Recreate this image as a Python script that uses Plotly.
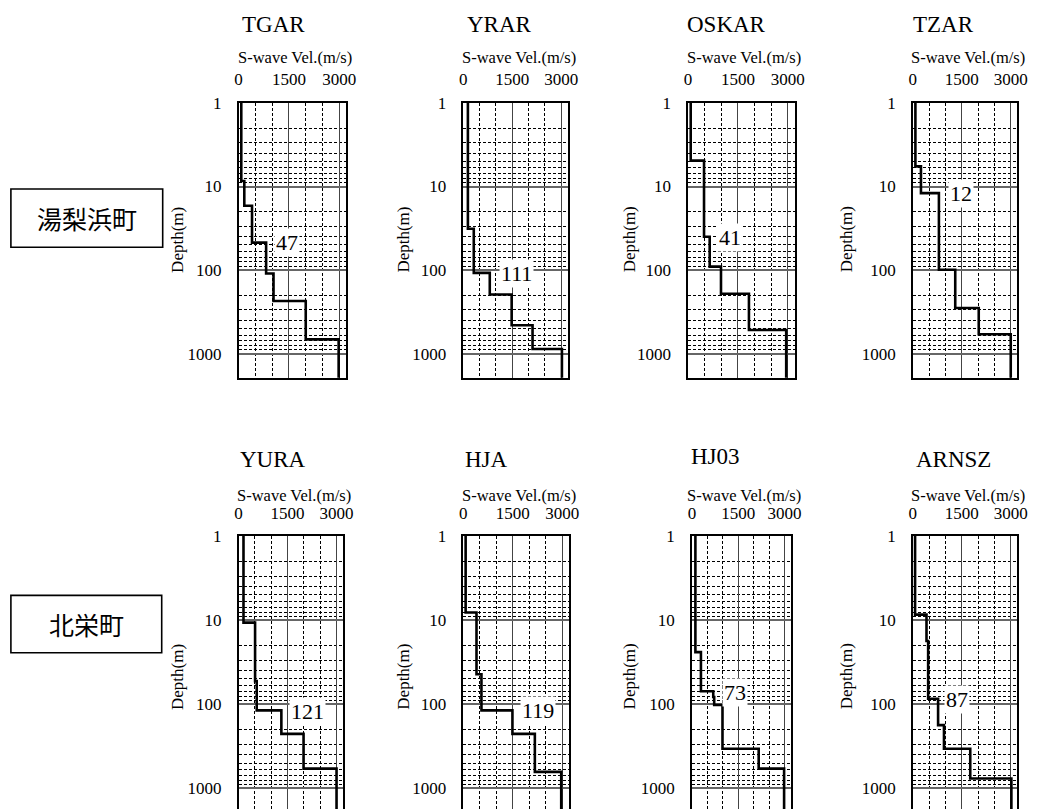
import math
import plotly.graph_objects as go

W, H = 1047, 809

# ---------------- data ----------------
stations = ["TGAR", "YRAR", "OSKAR", "TZAR", "YURA", "HJA", "HJ03", "ARNSZ"]

# S-wave velocity of each layer (m/s), top to bottom
vs_TGAR = [80, 170, 400, 820, 1040, 2000, 2980]
vs_YRAR = [140, 320, 810, 1480, 2120, 3020]
vs_OSKAR = [80, 480, 650, 990, 1830, 2950]
vs_TZAR = [80, 250, 800, 1300, 2020, 3000]
vs_YURA = [150, 505, 555, 1310, 1990, 3000]
vs_HJA = [70, 400, 550, 1490, 2170, 2970]
vs_HJ03 = [110, 290, 690, 720, 990, 2165, 2990]
vs_ARNSZ = [70, 420, 470, 775, 955, 1760, 3020]

# depth of layer boundaries (m)
dep_TGAR = [8.6, 17, 47, 110, 235, 675]
dep_YRAR = [32, 108, 196, 458, 880]
dep_OSKAR = [4.9, 40, 91, 192, 521]
dep_TZAR = [5.75, 12, 99, 284, 586]
dep_YURA = [10.7, 53, 118, 225, 582]
dep_HJA = [8.1, 44, 118, 225, 637]
dep_HJ03 = [24, 70, 82, 102, 338, 582]
dep_ARNSZ = [8.6, 17.7, 86, 177, 338, 763]

velocities = [vs_TGAR, vs_YRAR, vs_OSKAR, vs_TZAR, vs_YURA, vs_HJA, vs_HJ03, vs_ARNSZ]
boundaries = [dep_TGAR, dep_YRAR, dep_OSKAR, dep_TZAR, dep_YURA, dep_HJA, dep_HJ03, dep_ARNSZ]

# numbers written on each panel (depth, m) and their velocity-axis position
label_values = [47, 111, 41, 12, 121, 119, 73, 87]
label_x = [1430, 1615, 1270, 1480, 2120, 2270, 1390, 1360]

region_names = ["湯梨浜町", "北栄町"]

x_tickvals = [0, 1500, 3000]
y_tickvals = [1, 10, 100, 1000]
y_ticktext = ["1", "10", "100", "1000"]

# ---------------- layout geometry (pixels) ----------------
panel_x = [(238, 347), (466, 572), (694, 802), (922, 1028),
           (238, 344), (466, 573), (698, 798), (922, 1028)]
row_y = [(95, 373), (533, 809)]
row_range = [3.29, 3.245]
title_x = [273, 503, 733, 953, 273, 490, 722, 963]
title_y = [16, 16, 16, 16, 456, 456, 453, 456]
swave_y = [49, 492]
depth_title_dx = [62, 61, 59, 67, 62, 61, 63, 67]
depth_title_y = [233, 675]

SERIF = "Liberation Serif"


def px(x):
    return x / W


def py(y):
    return 1 - y / H


fig = go.Figure()
annotations = []
layout_axes = {}

for i, name in enumerate(stations):
    row = 0 if i < 4 else 1
    vs = velocities[i]
    deps = boundaries[i]
    bottom = 10 ** row_range[row] * 1.2
    xs = [vs[0]]
    ys = [1]
    for v, d in zip(vs[1:], deps):
        xs.append(v)
        ys.append(d)
    xs.append(vs[-1])
    ys.append(bottom)
    sfx = "" if i == 0 else str(i + 1)
    fig.add_trace(go.Scatter(
        x=xs, y=ys, mode="lines", line_shape="vh",
        line=dict(color="black", width=2.6),
        xaxis="x" + sfx, yaxis="y" + sfx, showlegend=False,
        hoverinfo="skip"))

    x0, x1 = panel_x[i]
    y0, y1 = row_y[row]
    layout_axes["xaxis" + sfx] = dict(
        domain=[px(x0), px(x1)], anchor="y" + sfx, side="top",
        range=[0, 3200], tickvals=x_tickvals, ticks="",
        tickfont=dict(family=SERIF, size=17, color="black"),
        ticklabelstandoff=9,
        showgrid=True, gridcolor="#444", gridwidth=1.2, zeroline=False,
        minor=dict(dtick=500, showgrid=True, gridcolor="black",
                   gridwidth=1, griddash="3px,2px"),
        showline=True, linecolor="black", linewidth=1.5,
        mirror=(row == 0), fixedrange=True)
    layout_axes["yaxis" + sfx] = dict(
        domain=[py(y1), py(y0)], anchor="x" + sfx, type="log",
        range=[row_range[row], 0], tickvals=y_tickvals, ticktext=y_ticktext,
        ticks="", ticklabelstandoff=12,
        tickfont=dict(family=SERIF, size=17, color="black"),
        showgrid=True, gridcolor="#666", gridwidth=1.6, zeroline=False,
        minor=dict(dtick="D1", showgrid=True, gridcolor="black",
                   gridwidth=1, griddash="3px,2px"),
        showline=True, linecolor="black", linewidth=1.5, mirror=True,
        fixedrange=True)

    # station name
    annotations.append(dict(
        x=px(title_x[i]), y=py(title_y[i]), xref="paper", yref="paper",
        text=name, showarrow=False, xanchor="center", yanchor="middle",
        font=dict(family=SERIF, size=23, color="black")))
    # x axis title
    annotations.append(dict(
        x=px((x0 + x1) / 2 + 3), y=py(swave_y[row]), xref="paper", yref="paper",
        text="S-wave Vel.(m/s)", showarrow=False, xanchor="center",
        yanchor="middle", font=dict(family=SERIF, size=16.5, color="black")))
    # y axis title
    annotations.append(dict(
        x=px(x0 - depth_title_dx[i]), y=py(depth_title_y[row]),
        xref="paper", yref="paper", text="Depth(m)", textangle=-90,
        showarrow=False, xanchor="center", yanchor="middle",
        font=dict(family=SERIF, size=17, color="black")))
    # depth value label
    annotations.append(dict(
        x=label_x[i], y=math.log10(label_values[i]),
        xref="x" + sfx, yref="y" + sfx, text=str(label_values[i]),
        showarrow=False, xanchor="center", yanchor="middle",
        bgcolor="white", borderpad=1,
        font=dict(family=SERIF, size=22, color="black")))

# region boxes
boxes = [(7, 182, 161, 241), (7, 593, 160, 651)]
shapes = []
for (bx0, by0, bx1, by1), txt in zip(boxes, region_names):
    shapes.append(dict(type="rect", xref="paper", yref="paper",
                       x0=px(bx0), x1=px(bx1), y0=py(by1), y1=py(by0),
                       line=dict(color="black", width=1.6),
                       fillcolor="white", layer="above"))
    annotations.append(dict(
        x=px((bx0 + bx1) / 2), y=py((by0 + by1) / 2),
        xref="paper", yref="paper", text=txt, showarrow=False,
        xanchor="center", yanchor="middle",
        font=dict(family="Noto Sans CJK JP", size=25, color="black")))

fig.update_layout(
    width=W, height=H, margin=dict(l=0, r=0, t=0, b=0),
    paper_bgcolor="white", plot_bgcolor="white",
    annotations=annotations, shapes=shapes, showlegend=False,
    **layout_axes)

fig.write_html("out.html")
